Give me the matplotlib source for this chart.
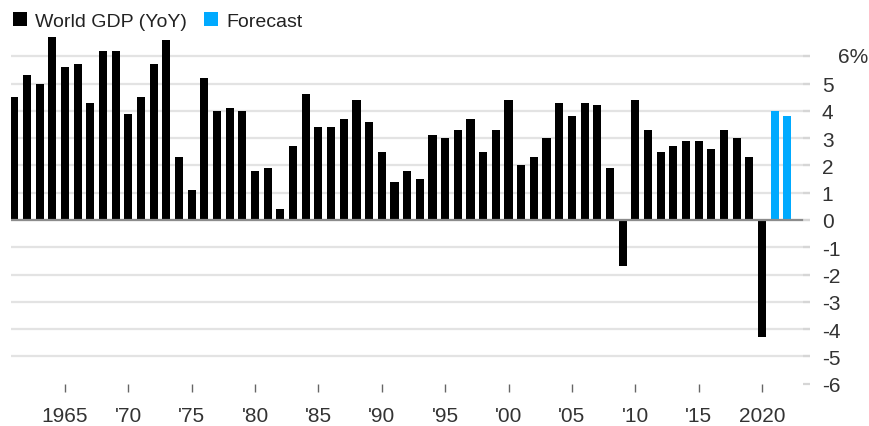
import matplotlib
matplotlib.use('Agg')
import matplotlib.pyplot as plt
from matplotlib.patches import Rectangle

plt.rcParams['font.family'] = ['Liberation Sans', 'DejaVu Sans']

# world GDP growth, % YoY
years = list(range(1961, 2021))
gdp = [4.5, 5.3, 5.0, 6.7, 5.6, 5.7, 4.3, 6.2, 6.2, 3.9,   # 1961-1970
       4.5, 5.7, 6.6, 2.3, 1.1, 5.2, 4.0, 4.1, 4.0, 1.8,   # 1971-1980
       1.9, 0.4, 2.7, 4.6, 3.4, 3.4, 3.7, 4.4, 3.6, 2.5,   # 1981-1990
       1.4, 1.8, 1.5, 3.1, 3.0, 3.3, 3.7, 2.5, 3.3, 4.4,   # 1991-2000
       2.0, 2.3, 3.0, 4.3, 3.8, 4.3, 4.2, 1.9, -1.7, 4.4,  # 2001-2010
       3.3, 2.5, 2.7, 2.9, 2.9, 2.6, 3.3, 3.0, 2.3, -4.3]  # 2011-2020
forecast_years = [2021, 2022]
forecast = [4.0, 3.8]

xtick_years = list(range(1965, 2021, 5))
xtick_labels = ['1965', "'70", "'75", "'80", "'85", "'90", "'95", "'00", "'05", "'10", "'15", '2020']
ytick_vals = list(range(-6, 7))
ytick_labels = [str(v) for v in ytick_vals[:-1]] + ['']

BLACK = '#000000'
BLUE = '#00aaff'
TXT = '#333333'

W, H = 870, 427
fig = plt.figure(figsize=(W / 100, H / 100), dpi=100)
ax_bottom, ax_top = 384.7, 30
ax = fig.add_axes([11 / W, (H - ax_bottom) / H, 799 / W, (ax_bottom - ax_top) / H])

for v in ytick_vals[1:]:
    ax.axhline(v, color='#e3e3e3', lw=1.6, zorder=0)

ax.bar(years, gdp, width=0.64, color=BLACK, zorder=2)
ax.bar(forecast_years, forecast, width=0.64, color=BLUE, zorder=2)
ax.axhline(0, xmax=0.99, color='#8c8c8c', lw=1.6, zorder=3)

ax.set_xlim(1960.74, 2023.79)
ax.set_ylim(-6, 7)

for s in ax.spines.values():
    s.set_visible(False)

ax.set_xticks(xtick_years)
ax.set_xticklabels(xtick_labels)
ax.tick_params(axis='x', direction='out', length=5.8, width=1, color='#666666',
               pad=10.5, labelsize=15, labelcolor=TXT)

ax.yaxis.tick_right()
ax.set_yticks(ytick_vals)
ax.set_yticklabels(ytick_labels)
ax.tick_params(axis='y', direction='in', length=5, width=1.6, color='#d6d6d6',
               pad=8.5, labelsize=15, labelcolor=TXT)
ax.text(1.035, 6, '6%', transform=ax.get_yaxis_transform(), ha='left', va='center',
        fontsize=15, color=TXT)

# legend drawn by hand, top left
def fx(px):
    return px / W

def fy(px):
    return (H - px) / H

fig.add_artist(Rectangle((fx(13), fy(27)), 14 / W, 14 / H, transform=fig.transFigure,
                         color=BLACK, lw=0))
fig.text(fx(35), fy(27), 'World GDP (YoY)', fontsize=14, color='#222222', va='baseline')
fig.add_artist(Rectangle((fx(204), fy(27)), 14 / W, 14 / H, transform=fig.transFigure,
                         color=BLUE, lw=0))
fig.text(fx(226), fy(27), 'Forecast', fontsize=14, color='#222222', va='baseline')

fig.savefig('out.png', dpi=100)
